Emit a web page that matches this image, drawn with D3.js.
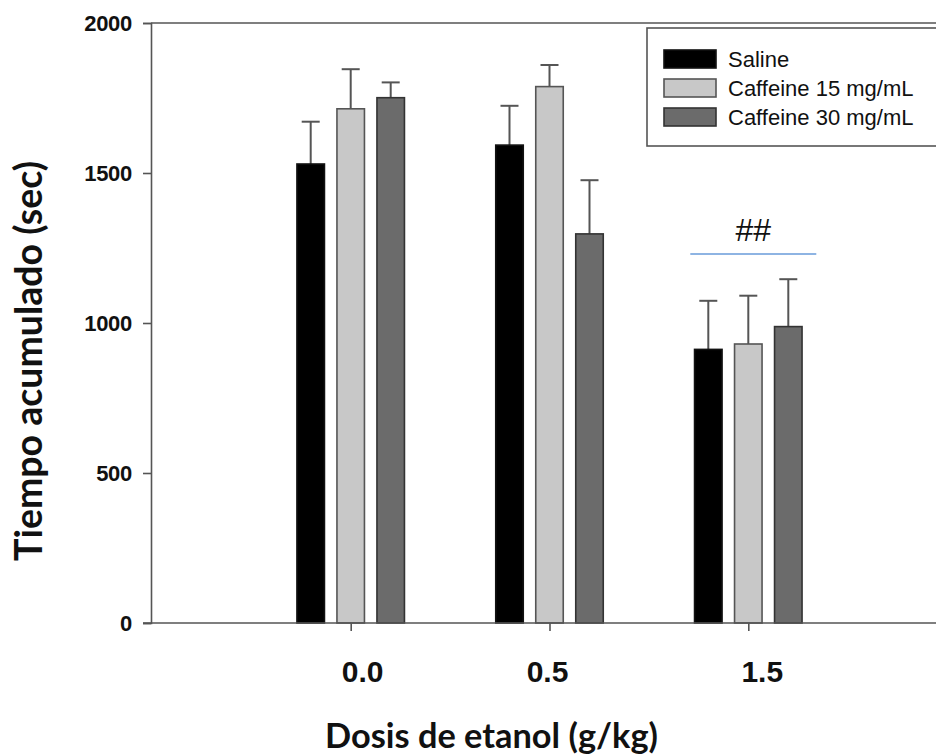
<!DOCTYPE html>
<html><head><meta charset="utf-8">
<script src="https://cdn.jsdelivr.net/npm/d3@7/dist/d3.min.js"></script>
<style>html,body{margin:0;padding:0;background:#fff;overflow:hidden}</style>
</head><body>
<svg id="chart" width="936" height="756"></svg>
<script>
// ---- data ----
const categories = ["0.0", "0.5", "1.5"];
const seriesNames = ["Saline", "Caffeine 15 mg/mL", "Caffeine 30 mg/mL"];
const salineMean = [1530, 1593, 912];
const salineErr  = [141, 131, 162];
const caf15Mean  = [1714, 1788, 930];
const caf15Err   = [132, 72, 161];
const caf30Mean  = [1751, 1297, 988];
const caf30Err   = [51, 179, 158];
const yTicks = [0, 500, 1000, 1500, 2000];
const sigLabel = "##";

// ---- layout / styles ----
const fills = ["#000000", "#c8c8c8", "#6b6b6b"];
const strokes = ["#111111", "#555555", "#333333"];
const labelDx = [12, -2, 14];
const axisColor = "#555";

const svg = d3.select("#chart");
const x0 = 151, yTop = 23, yBot = 623;
const y = d3.scaleLinear().domain([0, 2000]).range([yBot, yTop]);
const xg = d3.scalePoint().domain(categories).range([350.7, 748.3]);
const xs = d3.scaleBand().domain(seriesNames).range([-60, 60]).paddingInner(0.3125).paddingOuter(0.15625);

const means = [salineMean, caf15Mean, caf30Mean];
const errs = [salineErr, caf15Err, caf30Err];
const rows = [];
seriesNames.forEach((s, si) => categories.forEach((c, ci) => rows.push({s, si, c, v: means[si][ci], e: errs[si][ci]})));

// frame line: top (right side is off-canvas)
svg.append("line").attr("x1", x0).attr("x2", 1000).attr("y1", yTop).attr("y2", yTop)
  .attr("stroke", axisColor).attr("stroke-width", 1.6);

// error bars (upper only)
const eb = svg.append("g");
rows.forEach(d => {
  const cx = xg(d.c) + xs(d.s) + xs.bandwidth() / 2;
  eb.append("line").attr("x1", cx).attr("x2", cx).attr("y1", y(d.v)).attr("y2", y(d.v + d.e))
    .attr("stroke", "#555").attr("stroke-width", 2);
  eb.append("line").attr("x1", cx - 9).attr("x2", cx + 9).attr("y1", y(d.v + d.e)).attr("y2", y(d.v + d.e))
    .attr("stroke", "#555").attr("stroke-width", 2);
});

// bars
svg.append("g").selectAll("rect").data(rows).join("rect")
  .attr("x", d => xg(d.c) + xs(d.s))
  .attr("y", d => y(d.v))
  .attr("width", xs.bandwidth())
  .attr("height", d => y(0) - y(d.v))
  .attr("fill", d => fills[d.si])
  .attr("stroke", d => strokes[d.si])
  .attr("stroke-width", 1.6);

// y axis
const yAxis = d3.axisLeft(y).tickValues(yTicks).tickSize(8).tickPadding(11).tickFormat(d3.format("d"));
const gy = svg.append("g").attr("transform", `translate(${x0},0)`).call(yAxis);
gy.select(".domain").attr("stroke", axisColor).attr("stroke-width", 1.6);
gy.selectAll(".tick line").attr("stroke", axisColor).attr("stroke-width", 1.6);
gy.selectAll(".tick text").attr("font-family", "Liberation Sans, Arial, sans-serif")
  .attr("font-size", 22).attr("font-weight", "bold").attr("fill", "#111").attr("letter-spacing", "-0.3px");

// x axis
svg.append("line").attr("x1", x0 - 8).attr("x2", 1000).attr("y1", yBot).attr("y2", yBot)
  .attr("stroke", axisColor).attr("stroke-width", 1.6);
const xAxis = d3.axisBottom(xg).tickSize(8).tickFormat("");
const gx = svg.append("g").attr("transform", `translate(0,${yBot})`).call(xAxis);
gx.select(".domain").remove();
gx.selectAll(".tick line").attr("stroke", axisColor).attr("stroke-width", 1.6);
svg.append("g").selectAll("text").data(categories).join("text")
  .attr("x", (d, i) => xg(d) + labelDx[i]).attr("y", 682)
  .attr("text-anchor", "middle")
  .attr("font-family", "Liberation Sans, Arial, sans-serif").attr("font-size", 30).attr("font-weight", "bold")
  .attr("fill", "#111").text(d => d);

// titles
function fitText(sel, target) {
  const len = sel.node().getComputedTextLength();
  const fs = parseFloat(sel.attr("font-size"));
  sel.attr("font-size", fs * target / len);
}
const xt = svg.append("text").attr("x", 491.5).attr("y", 748).attr("text-anchor", "middle")
  .attr("font-family", "Lato, 'Open Sans', sans-serif").attr("font-weight", "bold").attr("font-size", 30)
  .attr("fill", "#111").text("Dosis de etanol (g/kg)");
fitText(xt, 333);
const yt = svg.append("text").attr("transform", "translate(42,361) rotate(-90)").attr("text-anchor", "middle")
  .attr("font-family", "Lato, 'Open Sans', sans-serif").attr("font-weight", "bold").attr("font-size", 30)
  .attr("fill", "#111").text("Tiempo acumulado (sec)");
fitText(yt, 400);

// significance marker
const sx1 = xg("1.5") - 58, sx2 = xg("1.5") + 68;
svg.append("line").attr("x1", sx1).attr("x2", sx2).attr("y1", 254).attr("y2", 254)
  .attr("stroke", "#8eb4e3").attr("stroke-width", 2);
svg.append("text").attr("x", (sx1 + sx2) / 2).attr("y", 241).attr("text-anchor", "middle")
  .attr("font-family", "Liberation Sans, Arial, sans-serif").attr("font-size", 32)
  .attr("fill", "#111").text(sigLabel);

// legend
const lg = svg.append("g").attr("transform", "translate(647,28)");
lg.append("rect").attr("x", 0).attr("y", 0).attr("width", 320).attr("height", 118)
  .attr("fill", "#fff").attr("stroke", axisColor).attr("stroke-width", 1.6);
seriesNames.forEach((s, i) => {
  lg.append("rect").attr("x", 17).attr("y", 22 + i * 29).attr("width", 52).attr("height", 18)
    .attr("fill", fills[i]).attr("stroke", strokes[i]).attr("stroke-width", 1.6);
  lg.append("text").attr("x", 81).attr("y", 38.5 + i * 29)
    .attr("font-family", "Liberation Sans, Arial, sans-serif").attr("font-size", 22)
    .attr("fill", "#111").text(s);
});
</script>
</body></html>
